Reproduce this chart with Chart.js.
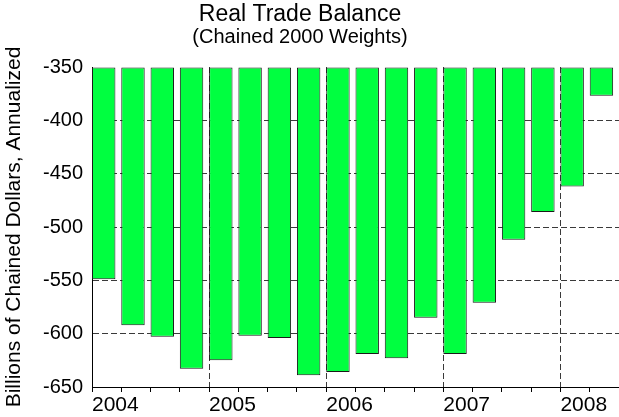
<!DOCTYPE html>
<html>
<head>
<meta charset="utf-8">
<script src="https://cdn.jsdelivr.net/npm/chart.js@4/dist/chart.umd.min.js"></script>
<style>
  html, body { margin: 0; padding: 0; background: #fff; }
  #wrap { width: 619px; height: 417px; }
</style>
</head>
<body>
<div id="wrap"><canvas id="c" width="619" height="417"></canvas></div>
<script>
// ---- data ----
const TITLE = 'Real Trade Balance';
const SUBTITLE = '(Chained 2000 Weights)';
const Y_LABEL = 'Billions of Chained Dollars, Annualized';
const years = ['2004', '2005', '2006', '2007', '2008'];
const quarters = ['2004Q1','2004Q2','2004Q3','2004Q4',
                  '2005Q1','2005Q2','2005Q3','2005Q4',
                  '2006Q1','2006Q2','2006Q3','2006Q4',
                  '2007Q1','2007Q2','2007Q3','2007Q4',
                  '2008Q1','2008Q2'];
const balance = [-549, -592, -603, -633,
                 -625, -602, -604, -639,
                 -636, -619, -623, -585,
                 -619, -571, -512, -486,
                 -462, -377];
const yTicks = [-650, -600, -550, -500, -450, -400, -350];

// ---- chart ----
const FONT = '"Liberation Sans", Arial, Helvetica, sans-serif';
const yMin = Math.min(...yTicks), yMax = Math.max(...yTicks);
const nQ = quarters.length;
const DASH = [6, 3];
const GRID = '#3a3a3a';

// each bar sits at the left of its quarter slot
const points = balance.map((v, i) => ({ x: i + 0.4, y: v }));

const titlePlugin = {
  id: 'titles',
  afterDraw(chart) {
    const ctx = chart.ctx;
    ctx.save();
    ctx.fillStyle = '#000';
    ctx.textAlign = 'center';
    ctx.textBaseline = 'middle';
    ctx.font = '23px ' + FONT;
    ctx.fillText(TITLE, 300, 15);
    ctx.font = '20px ' + FONT;
    ctx.fillText(SUBTITLE, 300, 37);
    ctx.restore();
  }
};

new Chart(document.getElementById('c'), {
  type: 'bar',
  data: {
    datasets: [{
      label: 'Real Trade Balance',
      data: points,
      base: yMax,
      backgroundColor: '#00ff40',
      borderColor: '#1a1a1a',
      borderWidth: 1,
      borderSkipped: false,
      categoryPercentage: 1.0,
      barPercentage: 0.8
    }]
  },
  options: {
    responsive: false,
    animation: false,
    layout: { padding: { top: 67, left: 0, right: 0, bottom: 0 } },
    plugins: {
      legend: { display: false },
      tooltip: { enabled: false },
      title: { display: false }
    },
    scales: {
      x: {
        type: 'linear',
        min: 0,
        max: nQ,
        offset: false,
        afterFit(scale) { scale.height = 30; scale.paddingRight = 0; scale.paddingLeft = 0; },
        ticks: {
          stepSize: 1,
          autoSkip: false,
          maxRotation: 0,
          align: 'start',
          padding: 3,
          color: '#000',
          font: { family: FONT, size: 21, lineHeight: 1.0 },
          callback: (v) => (v % 4 === 0 && v / 4 < years.length) ? years[v / 4] : ''
        },
        grid: {
          offset: false,
          drawOnChartArea: true,
          drawTicks: true,
          tickLength: 5,
          lineWidth: 1,
          color: (ctx) => {
            const v = ctx.tick && ctx.tick.value;
            return (v > 0 && v < nQ && v % 4 === 0) ? GRID : 'rgba(0,0,0,0)';
          },
          tickColor: '#000',
          tickBorderDash: []
        },
        border: { display: true, color: '#000', width: 1, dash: DASH }
      },
      y: {
        min: yMin,
        max: yMax,
        afterFit(scale) { scale.width = 92; },
        ticks: {
          stepSize: 50,
          padding: 9,
          color: '#000',
          font: { family: FONT, size: 20 }
        },
        grid: {
          drawTicks: false,
          lineWidth: 1,
          color: (ctx) => {
            const v = ctx.tick && ctx.tick.value;
            return (v > yMin && v < yMax) ? GRID : 'rgba(0,0,0,0)';
          }
        },
        border: { display: true, color: '#000', width: 1, dash: DASH },
        title: {
          display: true,
          text: Y_LABEL,
          color: '#000',
          font: { family: FONT, size: 21 },
          padding: { top: 2, bottom: 0 }
        }
      }
    }
  },
  plugins: [titlePlugin]
});
</script>
</body>
</html>
